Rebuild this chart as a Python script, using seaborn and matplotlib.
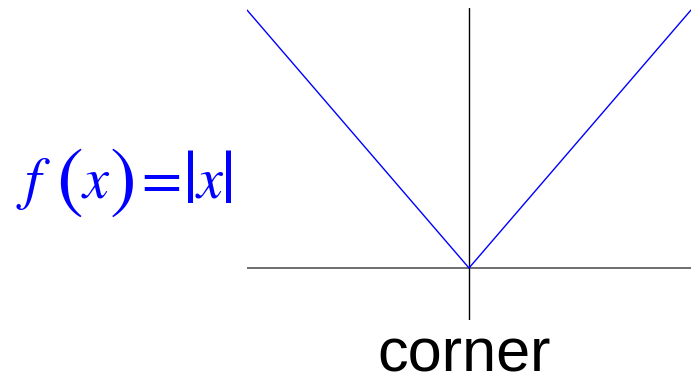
import matplotlib
matplotlib.use("Agg")
import matplotlib.pyplot as plt
import seaborn as sns
import pandas as pd

x_vals = [-1.0, 0.0, 1.0]
y_vals = [1.0, 0.0, 1.0]
label_text = "corner"
# pieces of the formula f(x)=|x|
func_pieces = ["f", "(", "x", ")", "=", "|", "x", "|"]

sns.set_style("white")
plt.rcParams["font.family"] = ["Liberation Sans", "DejaVu Sans"]

W, H = 691, 384
fig = plt.figure(figsize=(6.91, 3.84), dpi=100)
ax = fig.add_axes([247/W, 64/H, 444/W, 312/H])
df = pd.DataFrame({"x": x_vals, "y": y_vals})
sns.lineplot(data=df, x="x", y="y", ax=ax, color="#0000ff", linewidth=1.0, sort=False)
ax.axhline(0, color="#555555", linewidth=1.2, zorder=1)
ax.axvline(0, color="black", linewidth=1.0, zorder=1)
ax.set_xlim(-1.0, 1.0)
ax.set_ylim(-0.2016, 1.0078)
for s in ax.spines.values():
    s.set_visible(False)
ax.set_xticks([])
ax.set_yticks([])
ax.set_xlabel("")
ax.set_ylabel("")
ax.patch.set_alpha(0)

fig.text(464/W, 1 - 371/H, label_text, ha="center", va="baseline", fontsize=44, color="black")

# formula pieces: (center x px, y px, fontsize, italic, vertical anchor)
layout = [
    (33, 198, 42, True, "baseline"),
    (70, 184, 58, False, "center"),
    (96, 198, 42, True, "baseline"),
    (123, 184, 58, False, "center"),
    (161, 198, 42, False, "baseline"),
    (190, 185, 54, False, "center"),
    (210, 198, 42, True, "baseline"),
    (229, 185, 54, False, "center"),
]
for piece, (px, py, fs, ital, va) in zip(func_pieces, layout):
    fig.text(px/W, 1 - py/H, piece, ha="center", va=va, fontsize=fs,
             color="#0000ff", family="STIXGeneral",
             style="italic" if ital else "normal")

fig.savefig("out.png", dpi=100)
